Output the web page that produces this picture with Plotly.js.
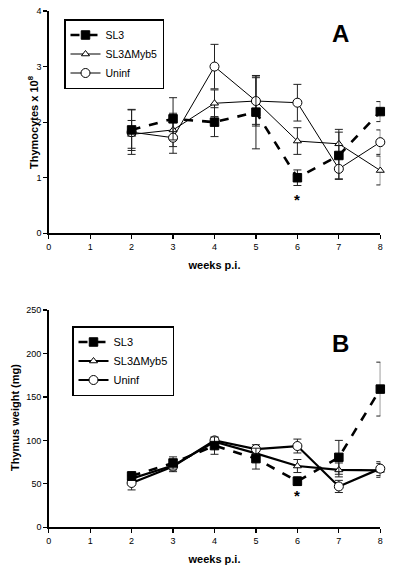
<!DOCTYPE html>
<html><head><meta charset="utf-8">
<script src="https://cdn.plot.ly/plotly-3.0.1.min.js"></script>
<style>html,body{margin:0;padding:0;background:#fff}#g{width:400px;height:567px}</style>
</head><body><div id="g"></div>
<script>
const weeks = [2,3,4,5,6,7,8];
const xTicks = [0,1,2,3,4,5,6,7,8];
// Panel A: thymocytes x 10^8
const aSL3 = [1.86,2.06,2.00,2.18,1.00,1.40,2.19];
const aSL3err = [0.37,0.38,0.26,0.66,0.14,0.42,0.18];
const aMyb = [1.78,1.86,2.34,2.38,1.66,1.61,1.13];
const aMyberr = [0.25,0.30,0.24,0.45,0.24,0.26,0.26];
const aUn = [1.82,1.72,3.00,2.38,2.35,1.16,1.64];
const aUnerr = [0.40,0.28,0.40,0.42,0.33,0.19,0.22];
// Panel B: thymus weight (mg)
const bSL3 = [59,74,94,79,53,80.5,159];
const bSL3err = [5,7,10,12,5,19.5,31];
const bMyb = [56,71,98.5,85,70.5,66,65.5];
const bMyberr = [4,5,4,6,7.5,8,8];
const bUn = [51,70,100,90,93.5,47,67.5];
const bUnerr = [8,6,3,5,8,7,8];
const names = ['SL3','SL3\u0394Myb5','Uninf'];

function tr(y, e, name, kind, xa, ya, leg, thick, rank){
  const sty = {
    sq:{symbol:'square', fill:'#000', size:8.5, dash:'dash', w:2.6},
    tri:{symbol:'triangle-up', fill:'#fff', size:7, dash:'solid', w:thick?2.2:1},
    ci:{symbol:'circle', fill:'#fff', size:9, dash:'solid', w:thick?2.2:1}
  }[kind];
  return {x:weeks, y:y, name:name, type:'scatter', mode:'lines+markers', xaxis:xa, yaxis:ya, legend:leg,
    cliponaxis:false, legendrank:rank,
    line:{color:'#000', width:sty.w, dash:sty.dash},
    marker:{symbol:sty.symbol, size:sty.size, color:sty.fill, line:{color:'#000', width:1}},
    error_y:{type:'data', array:e, visible:true, color:'#222', thickness:1, width:4}};
}
const data = [
  tr(aMyb,aMyberr,names[1],'tri','x','y','legend',false,2),
  tr(aUn,aUnerr,names[2],'ci','x','y','legend',false,3),
  tr(aSL3,aSL3err,names[0],'sq','x','y','legend',false,1),
  tr(bMyb,bMyberr,names[1],'tri','x2','y2','legend2',true,2),
  tr(bUn,bUnerr,names[2],'ci','x2','y2','legend2',true,3),
  tr(bSL3,bSL3err,names[0],'sq','x2','y2','legend2',true,1)
];
const ax = {showgrid:false, zeroline:false, showline:true, linecolor:'#000', linewidth:1.5,
  ticks:'outside', ticklen:4, tickcolor:'#000', tickwidth:1.2, tickfont:{family:'Liberation Sans, Arial', size:9, color:'#000'}};
const xd = [48.7/400, 380.3/400];
const titleFont = {family:'Liberation Sans, Arial', size:11, color:'#000', weight:'bold'};
const layout = {
  width:400, height:567, margin:{l:0,r:0,t:0,b:0}, paper_bgcolor:'#fff', plot_bgcolor:'#fff',
  font:{family:'Liberation Sans, Arial', color:'#000'},
  xaxis:Object.assign({}, ax, {domain:xd, range:[0,8], tickvals:xTicks, anchor:'y',
    title:{text:'weeks p.i.', font:titleFont, standoff:10}}),
  yaxis:Object.assign({}, ax, {domain:[1-233.3/567, 1-11/567], range:[0,4], tickvals:[0,1,2,3,4], anchor:'x'}),
  xaxis2:Object.assign({}, ax, {domain:xd, range:[0,8], tickvals:xTicks, anchor:'y2',
    title:{text:'weeks p.i.', font:titleFont, standoff:10}}),
  yaxis2:Object.assign({}, ax, {domain:[1-527.3/567, 1-310/567], range:[0,250], tickvals:[0,50,100,150,200,250], anchor:'x2'}),
  legend:{x:64/400, y:1-19/567, xanchor:'left', yanchor:'top', bordercolor:'#000', borderwidth:1.5, bgcolor:'#fff',
    font:{family:'Liberation Sans, Arial', size:10.5, color:'#000'}, traceorder:'normal', itemwidth:30, tracegroupgap:0},
  legend2:{x:72/400, y:1-326/567, xanchor:'left', yanchor:'top', bordercolor:'#000', borderwidth:1.5, bgcolor:'#fff',
    font:{family:'Liberation Sans, Arial', size:11, color:'#000'}, traceorder:'normal', itemwidth:30, tracegroupgap:0},
  annotations:[
    {text:'Thymocytes x 10<sup>8</sup>', xref:'paper', yref:'paper', x:33/400, y:1-122/567, textangle:-90,
      xanchor:'center', yanchor:'middle', showarrow:false, font:titleFont},
    {text:'Thymus weight (mg)', xref:'paper', yref:'paper', x:15/400, y:1-418/567, textangle:-90,
      xanchor:'center', yanchor:'middle', showarrow:false, font:titleFont},
    {text:'<b>A</b>', xref:'x', yref:'y', x:7.05, y:3.6, showarrow:false, font:{size:24, color:'#000'}},
    {text:'<b>B</b>', xref:'x2', yref:'y2', x:7.05, y:212, showarrow:false, font:{size:24, color:'#000'}},
    {text:'<b>*</b>', xref:'x', yref:'y', x:6, y:0.6, showarrow:false, font:{size:15, color:'#000'}},
    {text:'<b>*</b>', xref:'x2', yref:'y2', x:6, y:37, showarrow:false, font:{size:15, color:'#000'}}
  ]
};
Plotly.newPlot('g', data, layout, {displayModeBar:false, staticPlot:true});
</script></body></html>
